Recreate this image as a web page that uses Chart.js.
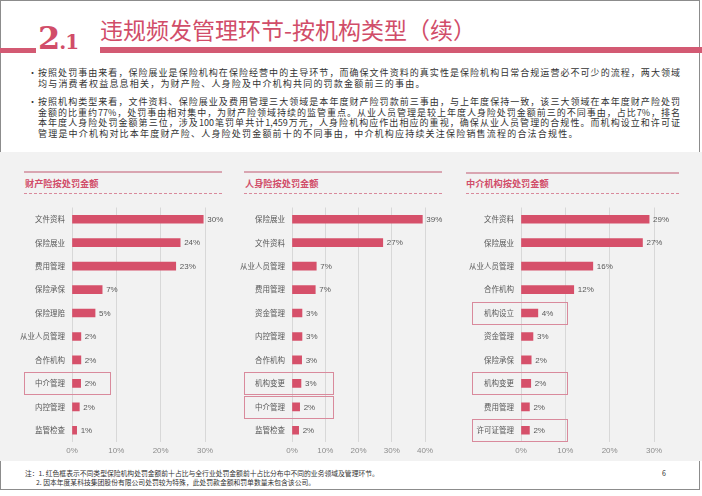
<!DOCTYPE html>
<html lang="zh">
<head>
<meta charset="utf-8">
<script src="https://cdn.jsdelivr.net/npm/chart.js@4.4.1/dist/chart.umd.min.js"></script>
<style>
  body { margin: 0; width: 702px; height: 496px; position: relative; background: #fff; overflow: hidden;
         font-family: "Noto Sans CJK SC", "Noto Sans", sans-serif; color: #333; }
  .abs { position: absolute; }
  .frame { left: 0; top: 0; width: 698px; height: 488px; border: 1.5px solid #8c8c8c; }
  .panel { left: 0; top: 152px; width: 702px; height: 309px; background: #f2f2f2; }
  .redbar { background: #d35a73; }
  .num2 { left: 38px; top: 18px; font-family: "DejaVu Serif", "Liberation Serif", serif; font-weight: bold;
          color: #d14d69; font-size: 32px; line-height: 40px; white-space: nowrap; letter-spacing: -1px; }
  .num2 small { font-size: 20px; }
  .title { left: 100px; top: 14px; font-size: 23px; line-height: 30px; color: #d14d69; white-space: nowrap; }
  .line { left: 38px; width: 642px; font-size: 9px; line-height: 10.7px; white-space: nowrap;
          text-align: justify; text-align-last: justify; color: #333; }
  .line.last { text-align-last: left; letter-spacing: 1.2px; }
  .dot { left: 28px; font-size: 9px; line-height: 10.7px; }
  .ptitle { font-size: 9.2px; font-weight: bold; color: #d14d69; line-height: 12px; white-space: nowrap; }
  .psolid { height: 2px; background: #d9a5b1; }
  .pdash { height: 0; border-top: 1px dashed #d98a9c; }
  .note { font-size: 6.8px; line-height: 9px; white-space: nowrap; color: #333; }
  canvas { position: absolute; }
</style>
</head>
<body>
<div class="abs frame"></div>
<div class="abs panel"></div>

<div class="abs redbar" style="left:0;top:48px;width:36px;height:5px;"></div>
<div class="abs redbar" style="left:100px;top:47px;width:602px;height:6px;"></div>
<div class="abs num2">2<small>.1</small></div>
<div class="abs title">违规频发管理环节-按机构类型（续）</div>

<div class="abs dot" style="top:68px;">•</div>
<div class="abs line" style="top:68px;">按照处罚事由来看，保险展业是保险机构在保险经营中的主导环节，而确保文件资料的真实性是保险机构日常合规运营必不可少的流程，两大领域</div>
<div class="abs line last" style="top:78.5px;">均与消费者权益息息相关，为财产险、人身险及中介机构共同的罚款金额前三的事由。</div>
<div class="abs dot" style="top:97px;">•</div>
<div class="abs line" style="top:97px;">按照机构类型来看，文件资料、保险展业及费用管理三大领域是本年度财产险罚款前三事由，与上年度保持一致，该三大领域在本年度财产险处罚</div>
<div class="abs line" style="top:107.7px;">金额的比重约77%，处罚事由相对集中，为财产险领域持续的监管重点。从业人员管理是较上年度人身险处罚金额前三的不同事由，占比7%，排名</div>
<div class="abs line" style="top:118.4px;">本年度人身险处罚金额第三位，涉及100笔罚单共计1,459万元，人身险机构应作出相应的重视，确保从业人员管理的合规性。而机构设立和许可证</div>
<div class="abs line last" style="top:129.1px;">管理是中介机构对比本年度财产险、人身险处罚金额前十的不同事由，中介机构应持续关注保险销售流程的合法合规性。</div>

<div class="abs psolid" style="left:24px;top:171px;width:198px;"></div>
<div class="abs ptitle" style="left:25px;top:177px;">财产险按处罚金额</div>
<div class="abs pdash" style="left:24px;top:193px;width:198px;"></div>

<div class="abs psolid" style="left:244px;top:171px;width:198px;"></div>
<div class="abs ptitle" style="left:245px;top:177px;">人身险按处罚金额</div>
<div class="abs pdash" style="left:244px;top:193px;width:198px;"></div>

<div class="abs psolid" style="left:466px;top:172px;width:213px;"></div>
<div class="abs ptitle" style="left:466px;top:177px;">中介机构按处罚金额</div>
<div class="abs pdash" style="left:466px;top:193px;width:213px;"></div>

<canvas id="propChart" width="225" height="262" style="left:10px;top:196px;"></canvas>
<canvas id="lifeChart" width="225" height="262" style="left:240px;top:196px;"></canvas>
<canvas id="agencyChart" width="235" height="262" style="left:462px;top:196px;"></canvas>

<div class="abs note" style="left:25px;top:469px;">注：1. 红色框表示不同类型保险机构处罚金额前十占比与全行业处罚金额前十占比分布中不同的业务领域及管理环节。</div>
<div class="abs note" style="left:36px;top:478px;">2. 因本年度某科技集团股份有限公司处罚较为特殊，此处罚款金额和罚单数量未包含该公司。</div>
<div class="abs note" style="left:662px;top:469px;font-size:7px;">6</div>

<script>
// 财产险按处罚金额
const propCats = ['文件资料', '保险展业', '费用管理', '保险承保', '保险理赔', '从业人员管理', '合作机构', '中介管理', '内控管理', '监管检查'];
const propVals = [29.6, 24.4, 23.4, 6.8, 5.2, 2.0, 2.0, 1.95, 1.65, 1.05];
const propHighlight = ['中介管理'];

// 人身险按处罚金额
const lifeCats = ['保险展业', '文件资料', '从业人员管理', '费用管理', '资金管理', '内控管理', '合作机构', '机构变更', '中介管理', '监管检查'];
const lifeVals = [39.2, 27.3, 7.3, 7.0, 3.0, 3.0, 2.9, 2.7, 2.3, 2.0];
const lifeHighlight = ['机构变更', '中介管理'];

// 中介机构按处罚金额
const agencyCats = ['文件资料', '保险展业', '从业人员管理', '合作机构', '机构设立', '资金管理', '保险承保', '机构变更', '费用管理', '许可证管理'];
const agencyVals = [28.9, 27.4, 16.2, 11.9, 3.8, 2.7, 2.3, 2.2, 1.9, 1.9];
const agencyHighlight = ['机构设立', '机构变更', '许可证管理'];

const xTicks = [0, 10, 20, 30, 40];

const BAR = '#d6506a';

// value labels + red highlight boxes
const barExtras = {
    id: 'barExtras',
    afterDatasetsDraw(chart, args, opts) {
        const ctx = chart.ctx;
        const vals = chart.data.datasets[0].data;
        const meta = chart.getDatasetMeta(0);
        ctx.save();
        ctx.font = '8px "Liberation Sans", Arial, sans-serif';
        ctx.fillStyle = '#595959';
        ctx.textBaseline = 'middle';
        meta.data.forEach((bar, i) => {
            ctx.fillText(Math.round(vals[i]) + '%', bar.x + 4, bar.y + 0.5);
        });
        const left = chart.chartArea.left;
        ctx.strokeStyle = '#d98a9c';
        ctx.lineWidth = 1;
        chart.data.labels.forEach((lab, i) => {
            if (!opts.highlight.includes(lab)) return;
            const y = chart.scales.y.getPixelForValue(i);
            ctx.strokeRect(left - opts.boxLeft + 0.5, Math.round(y - 11) + 0.5, opts.boxLeft + opts.boxRight, 22);
        });
        ctx.restore();
    }
};

const makeChart = (id, cats, vals, max, highlight, yWidth, padRight, boxLeft, boxRight) => {
    return new Chart(document.getElementById(id), {
        type: 'bar',
        data: {
            labels: cats,
            datasets: [{ data: vals, backgroundColor: BAR, barThickness: 8 }]
        },
        options: {
            indexAxis: 'y',
            responsive: false,
            animation: false,
            layout: { padding: { top: 6, right: padRight, left: 0, bottom: 0 } },
            plugins: {
                legend: { display: false },
                tooltip: { enabled: false },
                barExtras: { highlight: highlight, boxLeft: boxLeft, boxRight: boxRight }
            },
            scales: {
                x: {
                    min: 0, max: max,
                    afterBuildTicks: s => { s.ticks = xTicks.filter(v => v <= max).map(v => ({ value: v })); },
                    ticks: { callback: v => v + '%', color: '#8c8c8c', padding: 4,
                             font: { size: 8, family: '"Liberation Sans", Arial, sans-serif' } },
                    grid: { color: '#d8d8d8', drawTicks: false },
                    border: { display: false },
                    afterFit: s => { s.height = 16; }
                },
                y: {
                    ticks: { color: '#595959', padding: 7,
                             font: { size: 7.5, family: '"Noto Sans CJK SC", sans-serif' } },
                    grid: { display: false, drawTicks: false },
                    border: { display: false },
                    afterFit: s => { s.width = yWidth; }
                }
            }
        },
        plugins: [barExtras]
    });
};

makeChart('propChart', propCats, propVals, 30, propHighlight, 62, 30, 48, 38);
makeChart('lifeChart', lifeCats, lifeVals, 40, lifeHighlight, 52, 40, 48, 41);
makeChart('agencyChart', agencyCats, agencyVals, 30, agencyHighlight, 59, 43, 49, 46);
</script>
</body>
</html>
